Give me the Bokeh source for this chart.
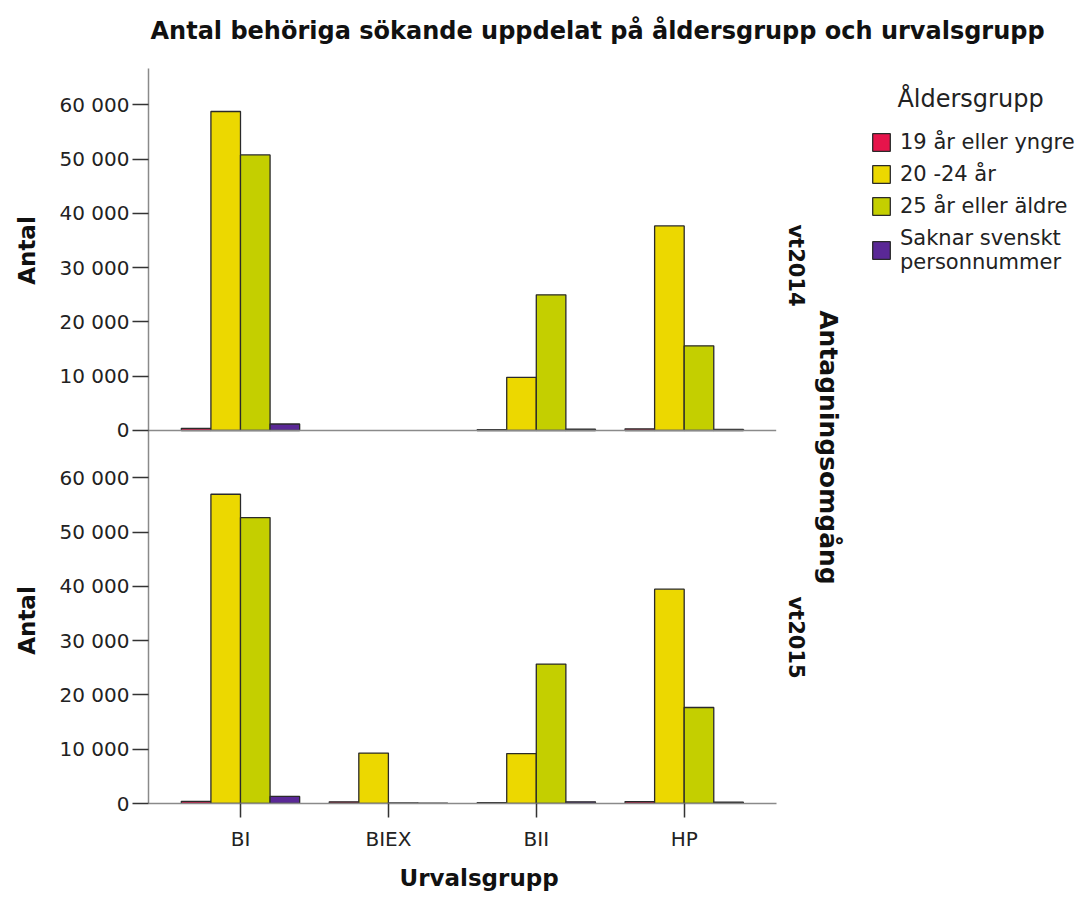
import math
from bokeh.plotting import figure
from bokeh.models import (Range1d, LinearAxis, FixedTicker, Label, Title,
                          Legend, LegendItem, ColumnDataSource)
from bokeh.embed import file_html
from bokeh.resources import INLINE

# ---------------- data ----------------
categories = ["BI", "BIEX", "BII", "HP"]
age_groups = ["19 år eller yngre", "20 -24 år", "25 år eller äldre",
              "Saknar svenskt\npersonnummer"]
rounds = ["vt2014", "vt2015"]

vt2014_19_yngre = [400, 0, 150, 300]
vt2014_20_24 = [58800, 0, 9800, 37700]
vt2014_25_aldre = [50800, 0, 25000, 15600]
vt2014_saknar = [1200, 0, 250, 200]

vt2015_19_yngre = [400, 300, 150, 350]
vt2015_20_24 = [57000, 9300, 9200, 39500]
vt2015_25_aldre = [52700, 100, 25700, 17700]
vt2015_saknar = [1300, 80, 300, 250]

tick_values = [0, 10000, 20000, 30000, 40000, 50000, 60000]
tick_labels = ["0", "10 000", "20 000", "30 000", "40 000", "50 000", "60 000"]

colors = ["#e6144b", "#ecd800", "#c4cf00", "#5a2896"]

title_text = "Antal behöriga sökande uppdelat på åldersgrupp och urvalsgrupp"
y_label = "Antal"
x_label = "Urvalsgrupp"
facet_label = "Antagningsomgång"
legend_title = "Åldersgrupp"

# ---------------- layout ----------------
FONT = "DejaVu Sans"
W, H = 1083, 899
FRAME_LEFT, FRAME_BOTTOM = 148, 803
AXIS_TOP = 68                                             # top of the y axis line (px)
PX_PER_UNIT = 54.25 / 10000
Y_END = round(FRAME_BOTTOM / PX_PER_UNIT)                 # frame reaches the canvas top
TOP_OFF = round((FRAME_BOTTOM - 430) / PX_PER_UNIT)       # top-panel zero offset
X_START = -0.622                                          # axis start (category units)
X_AXIS_END = 3.622                                        # end of the bar area
X_END = X_START + (W - FRAME_LEFT) / 147.9                # frame also hosts legend


def pos(y_px):
    """vertical pixel position -> bottom-panel range value (text placement only)"""
    return round((FRAME_BOTTOM - y_px) / PX_PER_UNIT)


p = figure(width=W, height=H, title=None,
           x_range=Range1d(X_START, X_END),
           y_range=Range1d(0, Y_END),
           output_backend="svg", toolbar_location=None,
           y_axis_location=None,
           min_border_left=FRAME_LEFT, min_border_right=0,
           min_border_top=0, min_border_bottom=H - FRAME_BOTTOM)
p.extra_y_ranges = {"top": Range1d(-TOP_OFF, Y_END - TOP_OFF)}
p.outline_line_color = None
p.xgrid.grid_line_color = None
p.ygrid.grid_line_color = None
p.background_fill_color = "white"
p.border_fill_color = "white"

series = {
    "vt2014": [vt2014_19_yngre, vt2014_20_24, vt2014_25_aldre, vt2014_saknar],
    "vt2015": [vt2015_19_yngre, vt2015_20_24, vt2015_25_aldre, vt2015_saknar],
}
offsets = [-0.3, -0.1, 0.1, 0.3]
range_names = {"vt2014": "top", "vt2015": "default"}

legend_renderers = []
for rnd in rounds:
    for j, vals in enumerate(series[rnd]):
        xs = [i + offsets[j] for i, v in enumerate(vals) if v > 0]
        tops = [v for v in vals if v > 0]
        src = ColumnDataSource(dict(x=xs, top=tops))
        r = p.vbar(x="x", top="top", bottom=0, width=0.2, source=src,
                   fill_color=colors[j], line_color="#2a2a2a", line_width=1.3,
                   y_range_name=range_names[rnd])
        if rnd == "vt2015":
            legend_renderers.append(r)

# top panel baseline (same extent as the x axis line)
p.segment(x0=[X_START], x1=[X_AXIS_END], y0=[0], y1=[0], y_range_name="top",
          line_color="#8a8a8a", line_width=1.5)

# y axis (one axis serving both panels)
all_ticks = tick_values + [t + TOP_OFF for t in tick_values]
overrides = {}
for t, lab in zip(tick_values, tick_labels):
    overrides[t] = lab
    overrides[t + TOP_OFF] = lab
yax = LinearAxis(ticker=FixedTicker(ticks=all_ticks), major_label_overrides=overrides,
                 bounds=(0, pos(AXIS_TOP)))
yax.axis_line_color = "#8a8a8a"
yax.axis_line_width = 1.5
yax.major_tick_line_color = "#333333"
yax.major_tick_line_width = 1.5
yax.major_tick_out = 16
yax.major_tick_in = 0
yax.minor_tick_line_color = None
yax.major_label_standoff = 3
yax.major_label_text_font = FONT
yax.major_label_text_font_size = "20px"
yax.major_label_text_color = "#222222"
p.add_layout(yax, "left")

# "Antal" labels, one per panel (outer left axis with no line/ticks)
antal_pos = [pos(250), pos(620)]
lax = LinearAxis(ticker=FixedTicker(ticks=antal_pos),
                 major_label_overrides={v: y_label for v in antal_pos})
lax.axis_line_color = None
lax.major_tick_line_color = None
lax.minor_tick_line_color = None
lax.major_label_orientation = "parallel"
lax.major_label_standoff = 10
lax.major_label_text_font = FONT
lax.major_label_text_font_size = "23px"
lax.major_label_text_font_style = "bold"
lax.major_label_text_color = "#111111"
p.add_layout(lax, "left")

# x axis (categories)
xax = p.xaxis[0]
xax.ticker = FixedTicker(ticks=list(range(len(categories))))
xax.major_label_overrides = {i: c for i, c in enumerate(categories)}
xax.bounds = (X_START, X_AXIS_END)
xax.axis_line_color = "#8a8a8a"
xax.axis_line_width = 1.5
xax.major_tick_line_color = "#333333"
xax.major_tick_line_width = 1.5
xax.major_tick_out = 14
xax.major_tick_in = 0
xax.minor_tick_line_color = None
xax.major_label_standoff = 9
xax.major_label_text_font = FONT
xax.major_label_text_font_size = "20px"
xax.major_label_text_color = "#222222"

# x axis title, centred under the bar area
p.add_layout(Title(text=x_label, align="left", offset=251, standoff=18,
                   text_font=FONT, text_font_size="23px", text_font_style="bold",
                   text_color="#111111"), "below")


# ---------------- texts inside the (tall, wide) frame ----------------
def add_text(text, X, Y, size, bold=False, angle=0.0, color="#111111", align="center"):
    p.add_layout(Label(x=X - FRAME_LEFT, y=FRAME_BOTTOM - Y,
                       x_units="screen", y_units="screen",
                       text=text, text_font=FONT, text_font_size=size,
                       text_font_style="bold" if bold else "normal",
                       text_color=color, text_align=align, text_baseline="middle",
                       angle=angle))


add_text(title_text, 150, 30, "24px", bold=True, align="left")
add_text(rounds[0], 795, 265, "21px", bold=True, angle=-math.pi / 2)
add_text(rounds[1], 795, 637, "21px", bold=True, angle=-math.pi / 2)
add_text(facet_label, 828, 447, "25px", bold=True, angle=-math.pi / 2)
add_text(legend_title, 970, 98, "24px", color="#222222")

legend = Legend(items=[LegendItem(label=age_groups[i], renderers=[legend_renderers[i]])
                       for i in range(4)],
                location=(870 - FRAME_LEFT, FRAME_BOTTOM - 274),
                orientation="vertical",
                glyph_width=22, glyph_height=22, label_standoff=8,
                label_text_font=FONT, label_text_font_size="21px",
                label_text_color="#222222", label_height=22,
                spacing=8, padding=0, margin=0,
                border_line_color=None, background_fill_alpha=0)
p.add_layout(legend, "center")

open("out.html", "w").write(file_html(p, INLINE))
